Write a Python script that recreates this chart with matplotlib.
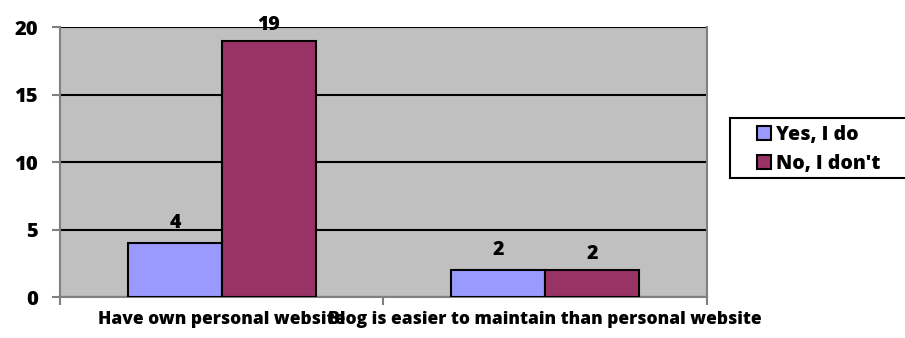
import matplotlib.pyplot as plt
import numpy as np
from matplotlib.patches import Rectangle

categories = ['Have own personal website', 'Blog is easier to maintain than personal website']
yes_vals = [4, 2]
no_vals = [19, 2]
series_names = ['Yes, I do', "No, I don't"]

plt.rcParams['font.family'] = ['Open Sans', 'DejaVu Sans']
plt.rcParams['font.weight'] = 'heavy'
wt = 'heavy'

fig = plt.figure(figsize=(9.05, 3.38), dpi=100)
ax = fig.add_axes([0.0663, 0.1213, 0.7149, 0.7988])
ax.set_facecolor('#c0c0c0')

x = np.arange(len(categories))
w = 0.29
b1 = ax.bar(x - w / 2, yes_vals, w, color='#9999ff', edgecolor='black', linewidth=1.5, label=series_names[0], zorder=3)
b2 = ax.bar(x + w / 2, no_vals, w, color='#993366', edgecolor='black', linewidth=1.5, label=series_names[1], zorder=3)
ax.bar_label(b1, padding=7, fontsize=14, fontweight=wt)
ax.bar_label(b2, padding=4, fontsize=14, fontweight=wt)

ax.set_xlim(-0.5, 1.5)
ax.set_ylim(0, 20)
ax.set_yticks([0, 5, 10, 15, 20])
ax.yaxis.grid(True, color='black', linewidth=1.5, zorder=1)
ax.set_axisbelow(True)

ax.set_xticks(x)
ax.set_xticklabels(categories, fontsize=12.5, fontweight=wt)
ax.set_xticks([-0.5, 0.5, 1.5], minor=True)
ax.tick_params(axis='x', which='major', length=0, pad=10)
ax.tick_params(axis='x', which='minor', length=6, width=1.5, color='#808080')
ax.tick_params(axis='y', length=6, width=1.5, color='#808080', labelsize=14.5, pad=10)
for lbl in ax.get_yticklabels():
    lbl.set_fontweight(wt)

for s in ax.spines.values():
    s.set_color('#808080')
    s.set_linewidth(1.5)
ax.spines['top'].set_visible(False)

# legend frame drawn separately so it runs off the right edge like the original
fig.patches.append(Rectangle((0.8066, 0.4734), 0.2, 0.1776, transform=fig.transFigure,
                             facecolor='white', edgecolor='black', linewidth=1.5, zorder=0))
leg = fig.legend(loc='upper left', bbox_to_anchor=(0.836, 0.63), fontsize=14, frameon=False,
                 handlelength=0.72, handleheight=0.72, handletextpad=0.3,
                 borderpad=0, labelspacing=0.45, borderaxespad=0)
for h in leg.legend_handles:
    h.set_linewidth(1.5)
for t in leg.get_texts():
    t.set_fontweight(wt)

fig.savefig('out.png', dpi=100)
